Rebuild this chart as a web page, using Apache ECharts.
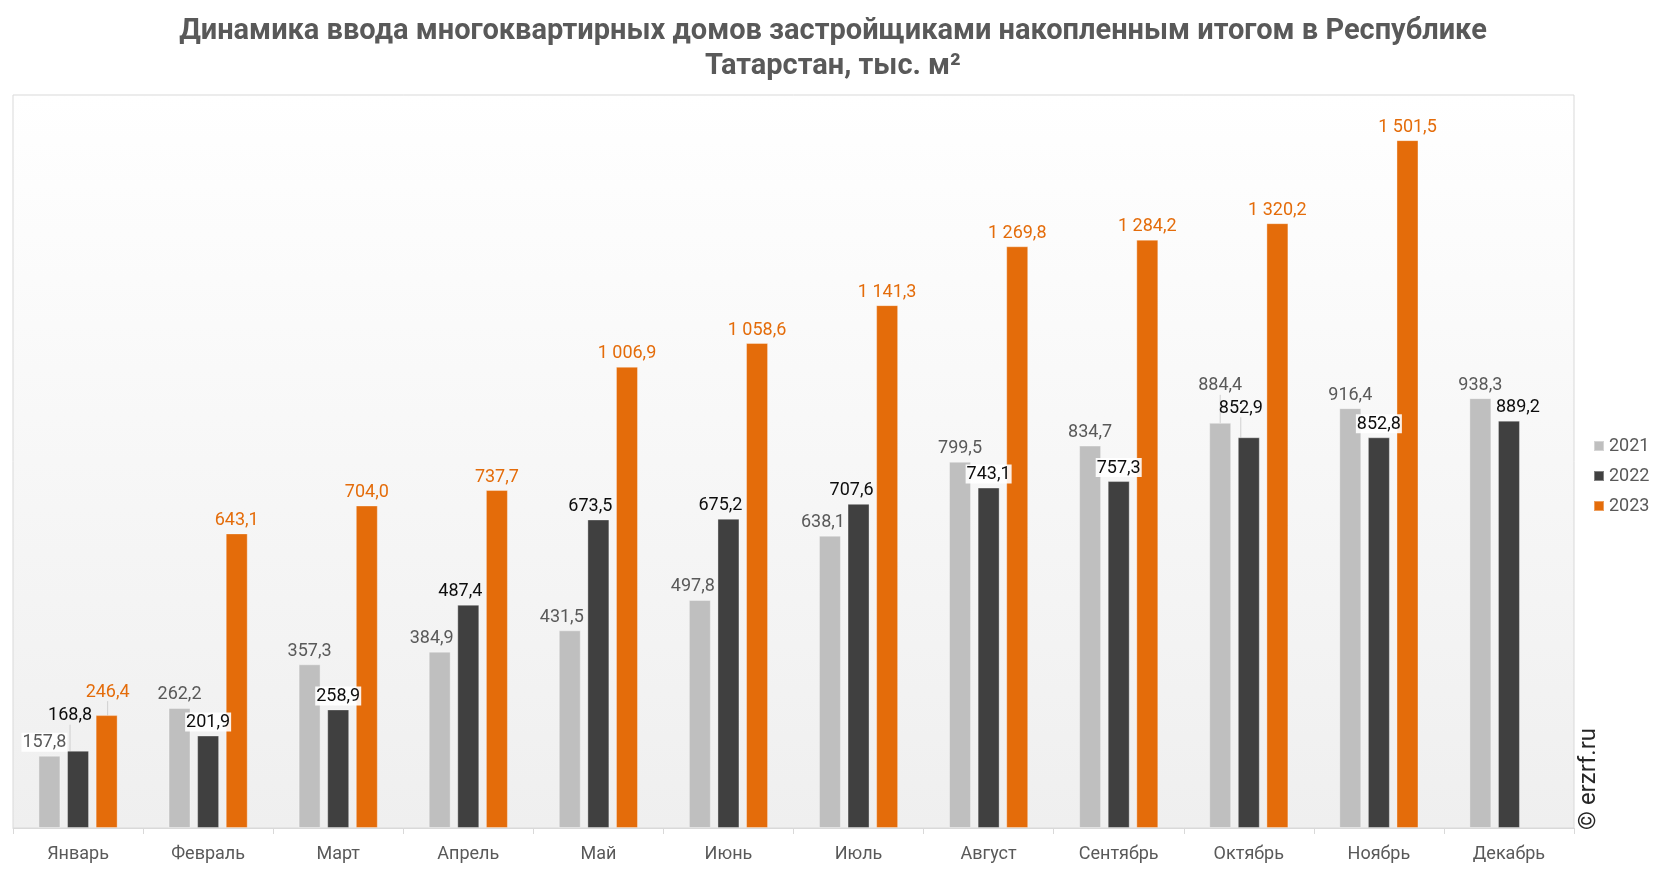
<!DOCTYPE html>
<html><head><meta charset="utf-8">
<script src="https://cdn.jsdelivr.net/npm/echarts@6/dist/echarts.min.js"></script>
<style>html,body{margin:0;padding:0;background:#fff}#c{width:1666px;height:872px}</style>
</head><body><div id="c"></div>
<script>
const categories = ['Январь','Февраль','Март','Апрель','Май','Июнь','Июль','Август','Сентябрь','Октябрь','Ноябрь','Декабрь'];
const s2021 = [157.8, 262.2, 357.3, 384.9, 431.5, 497.8, 638.1, 799.5, 834.7, 884.4, 916.4, 938.3];
const s2022 = [168.8, 201.9, 258.9, 487.4, 673.5, 675.2, 707.6, 743.1, 757.3, 852.9, 852.8, 889.2];
const s2023 = [246.4, 643.1, 704.0, 737.7, 1006.9, 1058.6, 1141.3, 1269.8, 1284.2, 1320.2, 1501.5, null];
const seriesNames = ['2021','2022','2023'];
const colors = ['#bfbfbf','#404040','#e46c0a'];
const labelColors = ['#595959','#0d0d0d','#e46c0a'];
const titleText = 'Динамика ввода многоквартирных домов застройщиками накопленным итогом в Республике\nТатарстан, тыс. м²';

function fmt(v){
  if (v == null) return '';
  const parts = v.toFixed(1).split('.');
  const int = parts[0].replace(/\B(?=(\d{3})+(?!\d))/g, ' ');
  return int + ',' + parts[1];
}
// label placement tweaks (mimic the reference's label layout)
const nudges = [
  {0:[-5,0], 3:[-8,0], 4:[-8,0], 5:[-7,0], 6:[-7,0], 9:[0,-24]},
  {0:[-8,-22], 3:[-8,0], 4:[-8,0], 5:[-8,0], 6:[-7,0], 9:[-8,-16], 11:[9,0]},
  {0:[1,-10]}
];
const leaders = [[9],[0,9],[0]];
const whiteBg = [[0],[1,2,7,8,10],[]];

function mkData(arr, si){
  return arr.map((v,i)=>{
    const item = {value: v};
    if (leaders[si].includes(i)) item.labelLine = {show: true, lineStyle: {color: '#d0d0d0', width: 1}};
    if (whiteBg[si].includes(i)) item.label = {backgroundColor: 'rgba(255,255,255,0.9)', padding: [1,1,0,1]};
    return item;
  });
}
const series = [s2021, s2022, s2023].map((arr, si)=>({
  name: seriesNames[si],
  type: 'bar',
  barWidth: 22,
  barGap: '30%',
  data: mkData(arr, si),
  itemStyle: {color: colors[si], borderColor: 'rgba(255,255,255,0.35)', borderWidth: 1},
  label: {
    show: true, position: 'top', distance: 4,
    formatter: p => fmt(p.value),
    color: labelColors[si],
    fontFamily: 'Roboto', fontSize: 18
  },
  labelLine: {show: false},
  labelLayout: function(p){
    const n = nudges[si][p.dataIndex];
    return n ? {dx: n[0], dy: n[1]} : {};
  }
}));
const chart = echarts.init(document.getElementById('c'));
chart.setOption({
  animation: false,
  backgroundColor: '#ffffff',
  title: {
    text: titleText, left: 'center', top: 9,
    textStyle: {fontFamily: 'Roboto', fontWeight: 'bold', fontSize: 29, color: '#595959', lineHeight: 35}
  },
  legend: {
    orient: 'vertical', left: 1588, top: 432, itemWidth: 10, itemHeight: 10, itemGap: 12,
    icon: 'rect',
    textStyle: {fontFamily: 'Roboto', fontSize: 18, color: '#595959'},
    data: seriesNames
  },
  grid: {
    left: 13, right: 92, top: 95, bottom: 44, show: true,
    borderColor: '#d9d9d9', borderWidth: 1,
    backgroundColor: new echarts.graphic.LinearGradient(0,0,0,1,[{offset:0,color:'#ffffff'},{offset:1,color:'#efefef'}])
  },
  xAxis: {
    type: 'category', data: categories,
    axisLine: {lineStyle: {color: '#d9d9d9', width: 1}},
    axisTick: {show: true, length: 6, lineStyle: {color: '#d9d9d9'}},
    axisLabel: {fontFamily: 'Roboto', fontSize: 18, color: '#595959', margin: 17}
  },
  yAxis: {type: 'value', min: 0, max: 1600, interval: 200, show: false, splitLine: {show: false}},
  graphic: [{
    type: 'text', left: 1577, top: 728, rotation: Math.PI/2,
    style: {text: '© erzrf.ru', fontFamily: 'Roboto', fontSize: 24, fill: '#262626'}
  }],
  series: series
});
</script></body></html>
